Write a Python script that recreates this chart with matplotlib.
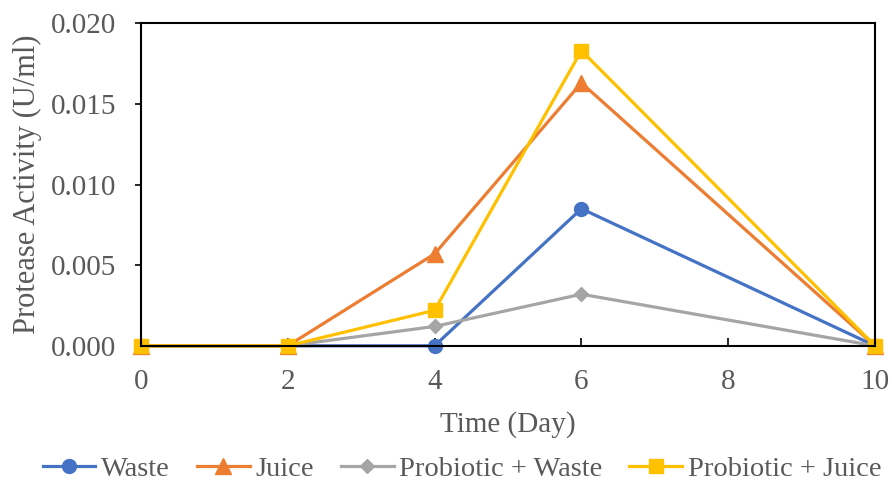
import numpy as np
import matplotlib
matplotlib.use('Agg')
from matplotlib import pyplot as plt

days = [0, 2, 4, 6, 10]
waste = [0, 0, 0, 0.0085, 0]
juice = [0, 0, 0.0057, 0.0163, 0]
pro_waste = [0, 0, 0.0012, 0.0032, 0]
pro_juice = [0, 0, 0.0022, 0.0183, 0]

plt.rcParams['font.family'] = ['Liberation Serif', 'DejaVu Serif']
grey = '#595959'

fig = plt.figure(figsize=(8.92, 4.83), dpi=100)
ax = fig.add_axes([0.158, 0.284, 0.823, 0.668])

ax.plot(days, waste, color='#4472C4', marker='o', ms=10, lw=2.3, label='Waste')
ax.plot(days, juice, color='#ED7D31', marker='^', ms=11, lw=2.3, label='Juice')
ax.plot(days, pro_waste, color='#A5A5A5', marker='D', ms=7, lw=2.3, label='Probiotic + Waste')
ax.plot(days, pro_juice, color='#FFC000', marker='s', ms=10, lw=2.3, label='Probiotic + Juice')

ax.set_xlim(0, 10)
ax.set_ylim(0, 0.020)
ax.set_xticks([0, 2, 4, 6, 8, 10])
ax.set_yticks(np.arange(0, 0.0201, 0.005))
ax.yaxis.set_major_formatter(matplotlib.ticker.FormatStrFormatter('%.3f'))
for sp in ax.spines.values():
    sp.set_linewidth(1.5)
    sp.set_color('black')
ax.tick_params(axis='x', direction='in', length=6, width=1.2, labelsize=21, labelcolor=grey, pad=17)
ax.tick_params(axis='y', direction='out', length=4, width=1.2, labelsize=21, labelcolor=grey, pad=14)
for line in ax.lines:
    line.set_clip_on(False)

ax.set_xlabel('Time (Day)', fontsize=21, color=grey, labelpad=11)
ax.set_ylabel('Protease Activity (U/ml)', fontsize=22, color=grey, labelpad=6)

fig.legend(loc='lower center', bbox_to_anchor=(0.518, -0.05), ncol=4, frameon=False,
           fontsize=20.5, labelcolor=grey, handlelength=1.85, handletextpad=0.2,
           columnspacing=0.95)

fig.savefig('out.png', dpi=100)
